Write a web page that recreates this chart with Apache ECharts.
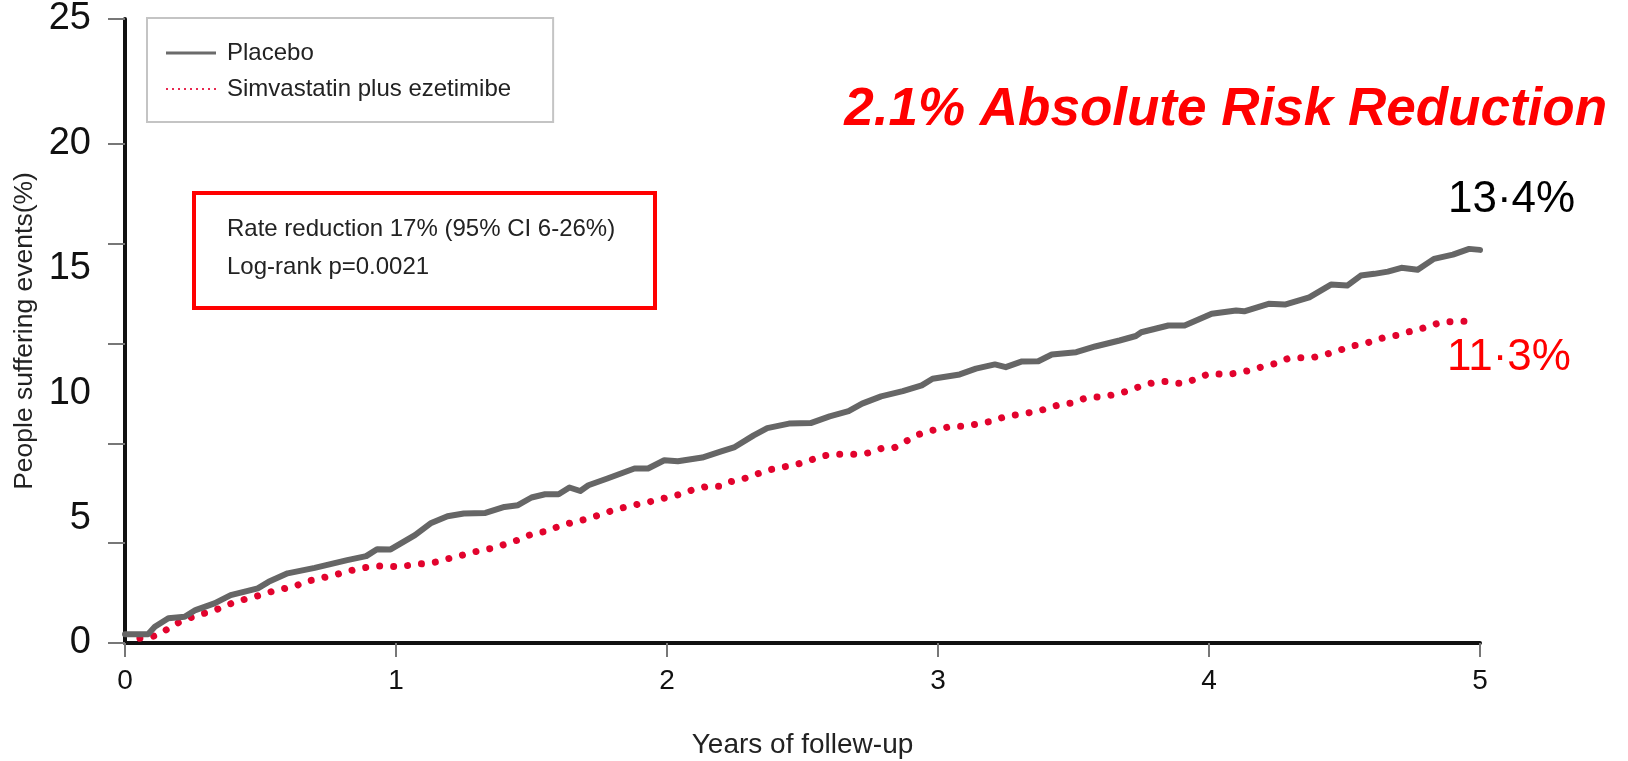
<!DOCTYPE html>
<html>
<head>
<meta charset="utf-8">
<script src="https://cdn.jsdelivr.net/npm/echarts@6/dist/echarts.min.js"></script>
<style>
html,body{margin:0;padding:0;background:#fff;}
#chart{width:1628px;height:761px;}
</style>
</head>
<body>
<div id="chart"></div>
<script>
// ---- Data ----
var seriesNames = ['Placebo', 'Simvastatin plus ezetimibe'];

var placeboT = [0, 0.085, 0.11, 0.16, 0.22, 0.26, 0.33, 0.39, 0.49, 0.53, 0.60, 0.70, 0.82, 0.89, 0.93, 0.98,
  1.07, 1.13, 1.19, 1.25, 1.33, 1.40, 1.45, 1.50, 1.55, 1.60, 1.64, 1.68, 1.71, 1.78, 1.88, 1.93, 1.99,
  2.04, 2.13, 2.20, 2.25, 2.32, 2.37, 2.45, 2.53, 2.60, 2.67, 2.72, 2.79, 2.87, 2.94, 2.98,
  3.08, 3.14, 3.21, 3.25, 3.31, 3.37, 3.42, 3.51, 3.58, 3.67, 3.73, 3.75, 3.85, 3.91,
  4.01, 4.10, 4.13, 4.22, 4.28, 4.37, 4.45, 4.51, 4.56, 4.61, 4.66, 4.71, 4.77, 4.83, 4.90, 4.96, 5.0];
var placeboV = [0.35, 0.35, 0.65, 0.99, 1.05, 1.32, 1.59, 1.92, 2.19, 2.45, 2.79, 3.01, 3.32, 3.48, 3.76, 3.75,
  4.32, 4.81, 5.08, 5.19, 5.21, 5.45, 5.52, 5.83, 5.96, 5.96, 6.23, 6.09, 6.32, 6.59, 6.99, 6.99, 7.32,
  7.28, 7.43, 7.68, 7.85, 8.32, 8.61, 8.79, 8.81, 9.08, 9.29, 9.59, 9.88, 10.09, 10.32, 10.59,
  10.76, 10.99, 11.16, 11.05, 11.28, 11.29, 11.56, 11.65, 11.88, 12.12, 12.30, 12.45, 12.72, 12.72,
  13.19, 13.32, 13.29, 13.59, 13.56, 13.85, 14.36, 14.32, 14.72, 14.79, 14.88, 15.03, 14.95, 15.39, 15.56, 15.79, 15.75];

var simvaT = [0.055, 0.10, 0.135, 0.17, 0.21, 0.25, 0.28, 0.32, 0.375, 0.42, 0.46, 0.50, 0.55, 0.63, 0.66, 0.71,
  0.77, 0.84, 0.89, 0.93, 0.97, 1.01, 1.08, 1.12, 1.15, 1.21, 1.26, 1.30, 1.37, 1.41, 1.46, 1.50, 1.56,
  1.61, 1.66, 1.71, 1.76, 1.81, 1.86, 1.89, 1.95, 2.00, 2.06, 2.09, 2.15, 2.20, 2.23, 2.28, 2.33, 2.37,
  2.42, 2.48, 2.52, 2.57, 2.61, 2.66, 2.70, 2.74, 2.79, 2.84, 2.87, 2.93, 2.98, 3.05, 3.09, 3.14, 3.20,
  3.25, 3.30, 3.37, 3.44, 3.49, 3.55, 3.62, 3.70, 3.76, 3.80, 3.84, 3.87, 3.91, 3.96, 4.00, 4.07, 4.12,
  4.16, 4.20, 4.25, 4.29, 4.33, 4.38, 4.43, 4.48, 4.52, 4.58, 4.61, 4.65, 4.69, 4.73, 4.77, 4.81, 4.85,
  4.91, 4.95, 4.99];
var simvaV = [0.19, 0.25, 0.41, 0.65, 0.89, 1.05, 1.16, 1.25, 1.52, 1.68, 1.81, 1.92, 2.09, 2.28, 2.45, 2.56,
  2.72, 2.92, 3.03, 3.08, 3.08, 3.05, 3.16, 3.19, 3.25, 3.43, 3.56, 3.68, 3.83, 3.99, 4.16, 4.36, 4.49,
  4.72, 4.85, 4.99, 5.16, 5.35, 5.48, 5.55, 5.69, 5.83, 5.99, 6.12, 6.28, 6.28, 6.45, 6.57, 6.76, 6.92,
  7.03, 7.16, 7.29, 7.48, 7.56, 7.56, 7.56, 7.61, 7.79, 7.83, 8.01, 8.36, 8.52, 8.68, 8.68, 8.76, 8.89,
  9.08, 9.16, 9.29, 9.52, 9.61, 9.83, 9.88, 10.09, 10.34, 10.44, 10.48, 10.41, 10.41, 10.61, 10.79, 10.76, 10.85,
  10.95, 11.08, 11.21, 11.39, 11.43, 11.43, 11.56, 11.72, 11.88, 12.01, 12.12, 12.25, 12.32, 12.45, 12.55, 12.68, 12.83,
  12.89, 12.89, 12.89];

var xTickLabels = [0, 1, 2, 3, 4, 5];
var yLabelValues = [0, 5, 10, 15, 20, 25];
var yTickValues = [0, 4, 8, 12, 16, 20, 25];

var titleText = '2.1% Absolute Risk Reduction';
var placeboEndText = '13\u00b74%';
var simvaEndText = '11\u00b73%';
var statLines = ['Rate reduction 17% (95% CI 6-26%)', 'Log-rank p=0.0021'];

// ---- Build ----
function pairs(t, v) { return t.map(function (x, i) { return [x, v[i]]; }); }

// legend icons (50 x 14 boxes)
var solidIcon = 'path://M0,0L0.01,0ZM0,5.6L50,5.6L50,8.4L0,8.4ZM0,14L0.01,14Z';
var dotIcon = 'path://M0,0L0.01,0Z';
for (var i = 0; i < 9; i++) {
  var dx = i * 6;
  dotIcon += 'M' + dx + ',6L' + (dx + 2) + ',6L' + (dx + 2) + ',8L' + dx + ',8Z';
}
dotIcon += 'M0,14L0.01,14Z';

var FONT = '"Liberation Sans", Arial, Helvetica, sans-serif';
var chart = echarts.init(document.getElementById('chart'), null, { renderer: 'canvas' });

var option = {
  animation: false,
  backgroundColor: '#ffffff',
  grid: { left: 125, right: 148, top: 19, bottom: 118, containLabel: false, outerBoundsMode: 'none' },
  xAxis: {
    type: 'value', min: 0, max: 5, interval: 1,
    name: 'Years of follew-up', nameLocation: 'middle', nameGap: 88,
    nameTextStyle: { fontFamily: FONT, fontSize: 28, color: '#222' },
    axisLine: { show: true, onZero: false, lineStyle: { color: '#111', width: 4 } },
    axisTick: { show: true, inside: false, length: 14, lineStyle: { color: '#777', width: 2 } },
    axisLabel: { margin: 24, fontFamily: FONT, fontSize: 28, color: '#111',
      formatter: function (v) { return xTickLabels.indexOf(v) >= 0 ? String(v) : ''; } },
    splitLine: { show: false }
  },
  yAxis: {
    type: 'value', min: 0, max: 25,
    name: 'People suffering events(%)', nameLocation: 'middle', nameGap: 83,
    nameTextStyle: { fontFamily: FONT, fontSize: 26.5, color: '#222' },
    axisLine: { show: true, onZero: false, lineStyle: { color: '#111', width: 4 } },
    axisTick: { show: true, inside: false, length: 17, customValues: yTickValues, lineStyle: { color: '#777', width: 2 } },
    axisLabel: { margin: 34, fontFamily: FONT, fontSize: 38, color: '#111', customValues: yLabelValues, padding: [4, 0, 0, 0] },
    splitLine: { show: false }
  },
  legend: {
    left: 147, top: 18, orient: 'vertical',
    padding: [23, 42, 21, 19],
    borderColor: '#c4c4c4', borderWidth: 2,
    itemWidth: 50, itemHeight: 14, itemGap: 12,
    textStyle: { fontFamily: FONT, fontSize: 24, color: '#222', padding: [0, 0, 0, 6] },
    data: [
      { name: seriesNames[0], icon: solidIcon, itemStyle: { color: '#6b6b6b' } },
      { name: seriesNames[1], icon: dotIcon, itemStyle: { color: '#e8284f' } }
    ]
  },
  series: [
    {
      name: seriesNames[0], type: 'line', symbol: 'none', smooth: false,
      data: pairs(placeboT, placeboV),
      lineStyle: { color: '#666666', width: 6, join: 'round', cap: 'round' },
      itemStyle: { color: '#666666' }, z: 3
    },
    {
      name: seriesNames[1], type: 'line', symbol: 'none', smooth: false,
      data: pairs(simvaT, simvaV),
      lineStyle: { color: '#e2032d', width: 7, type: [0.01, 14], cap: 'round' },
      itemStyle: { color: '#e2032d' }, z: 2
    }
  ],
  graphic: [
    { type: 'rect', shape: { x: 194, y: 193, width: 461, height: 115 },
      style: { fill: 'none', stroke: '#ff0000', lineWidth: 4 }, z: 10 },
    { type: 'text', x: 227, y: 229, style: { text: statLines[0], font: '24px ' + FONT, fill: '#222', textVerticalAlign: 'middle' }, z: 10 },
    { type: 'text', x: 227, y: 267, style: { text: statLines[1], font: '24px ' + FONT, fill: '#222', textVerticalAlign: 'middle' }, z: 10 },
    { type: 'text', x: 1607, y: 110, style: { text: titleText, font: 'italic bold 53px ' + FONT, fill: '#ff0000', textAlign: 'right', textVerticalAlign: 'middle' }, z: 10 },
    { type: 'text', x: 1448, y: 200, style: { text: placeboEndText, font: '44px ' + FONT, fill: '#000', textVerticalAlign: 'middle' }, z: 10 },
    { type: 'text', x: 1447, y: 358, style: { text: simvaEndText, font: '44px ' + FONT, fill: '#ff0000', textVerticalAlign: 'middle' }, z: 10 }
  ]
};
chart.setOption(option);
</script>
</body>
</html>
